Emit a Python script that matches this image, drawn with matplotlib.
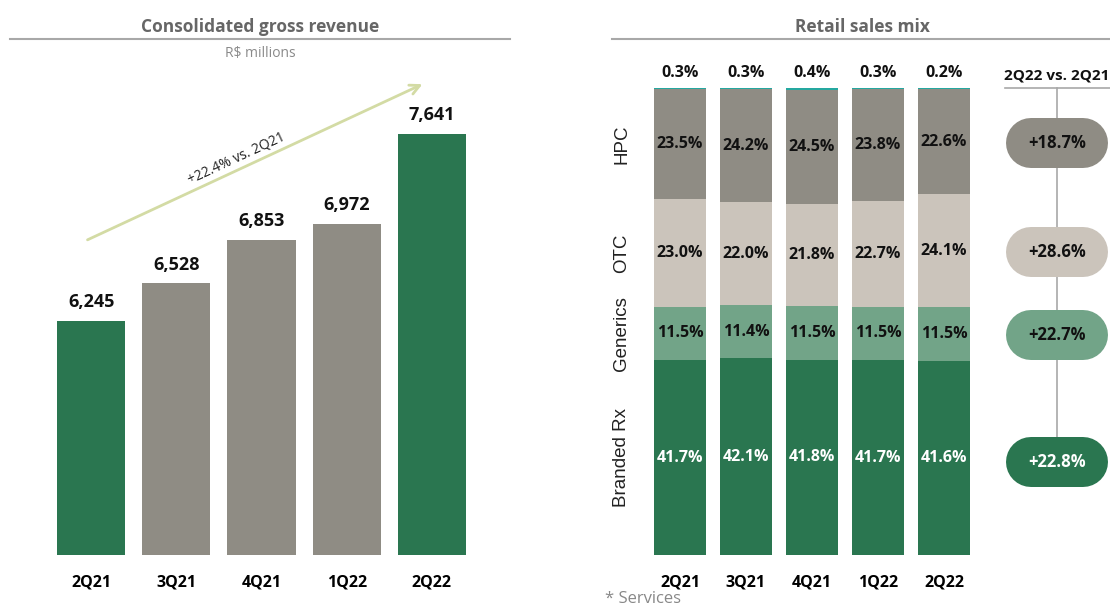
import numpy as np
import matplotlib.pyplot as plt

# ── DATA ──────────────────────────────────────────────────────────────────
quarters = ["2Q21", "3Q21", "4Q21", "1Q22", "2Q22"]
gross_revenue = [6245, 6528, 6853, 6972, 7641]       # R$ millions
revenue_growth = "+22.4% vs. 2Q21"

mix_segments = ["Branded Rx", "Generics", "OTC", "HPC"]
branded_rx = [41.7, 42.1, 41.8, 41.7, 41.6]
generics   = [11.5, 11.4, 11.5, 11.5, 11.5]
otc        = [23.0, 22.0, 21.8, 22.7, 24.1]
hpc        = [23.5, 24.2, 24.5, 23.8, 22.6]
services   = [0.3, 0.3, 0.4, 0.3, 0.2]
yoy_growth = ["+22.8%", "+22.7%", "+28.6%", "+18.7%"]   # same order as mix_segments

# ── STYLE ─────────────────────────────────────────────────────────────────
GREEN = "#2a7650"
GRAY = "#8f8c84"
BEIGE = "#cbc4bb"
MIDGREEN = "#72a488"
TEAL = "#25a8a0"
TITLE_GRAY = "#666666"
plt.rcParams['font.family'] = ['Open Sans', 'DejaVu Sans']

W, H = 1110, 606
fig = plt.figure(figsize=(W / 100, H / 100), dpi=100)

def px_axes(x0, y0, x1, y1):
    """axes placed by pixel box (top-left origin)"""
    return fig.add_axes([x0 / W, 1 - y1 / H, (x1 - x0) / W, (y1 - y0) / H])

# ── LEFT: consolidated gross revenue ──────────────────────────────────────
ax1 = px_axes(40, 86, 483, 555)
x = np.arange(len(quarters))
bar_colors = [GREEN, GRAY, GRAY, GRAY, GREEN]
ax1.bar(x, gross_revenue, width=0.8, color=bar_colors, bottom=0)
ax1.set_xlim(-0.6, 4.6)
ax1.set_ylim(4500, 8000)
for xi, v in zip(x, gross_revenue):
    ax1.annotate(f"{v:,}", (xi, v), xytext=(0, 7), textcoords="offset points",
                 ha="center", va="bottom", fontsize=13, fontweight="bold", color="#111111")
ax1.set_xticks(x, quarters, fontsize=11.5, fontweight="bold")
ax1.tick_params(length=0, pad=14)
for s in ax1.spines.values():
    s.set_visible(False)
ax1.set_yticks([])

# ── RIGHT: retail sales mix ───────────────────────────────────────────────
ax2 = px_axes(640.4, 88, 983.6, 555)
layers = [branded_rx, generics, otc, hpc, services]
layer_colors = [GREEN, MIDGREEN, BEIGE, GRAY, TEAL]
text_colors = ["white", "#111111", "#111111", "#111111"]
bottom = np.zeros(len(quarters))
for i, (vals, col) in enumerate(zip(layers, layer_colors)):
    vals = np.array(vals)
    ax2.bar(x, vals, bottom=bottom, width=0.79, color=col, linewidth=0)
    if i < 4:
        for xi, b, v in zip(x, bottom, vals):
            ax2.text(xi, b + v / 2, f"{v:.1f}%", ha="center", va="center",
                     fontsize=11.5, fontweight="bold", color=text_colors[i])
        ax2.text(-0.88, bottom[0] + vals[0] / 2, mix_segments[i], rotation=90,
                 ha="center", va="center", fontsize=13.5, family="Liberation Sans",
                 color="#222222")
    bottom += vals

for xi, v in zip(x, services):
    ax2.annotate(f"{v:.1f}%", (xi, 100), xytext=(0, 5), textcoords="offset points",
                 ha="center", va="bottom", fontsize=11.5, fontweight="bold", color="#111111")
ax2.annotate("*", (-0.88, 100), xytext=(0, 5), textcoords="offset points",
             ha="center", va="bottom", fontsize=12, color="#222222")
ax2.set_xlim(-0.6, 4.6)
ax2.set_ylim(0, 100)
ax2.set_xticks(x, quarters, fontsize=11.5, fontweight="bold")
ax2.tick_params(length=0, pad=14)
for s in ax2.spines.values():
    s.set_visible(False)
ax2.set_yticks([])

# ── OVERLAY: titles, growth arrow, yoy pills ──────────────────────────────
ov = fig.add_axes([0, 0, 1, 1], zorder=5)
ov.set_xlim(0, W)
ov.set_ylim(H, 0)
ov.axis("off")
ov.patch.set_alpha(0)

ov.text(260, 27, "Consolidated gross revenue", ha="center", va="center",
        fontsize=12.5, fontweight="bold", color=TITLE_GRAY)
ov.plot([10, 510], [39, 39], color="#a8a8a8", lw=1.5)
ov.text(260, 54, "R$ millions", ha="center", va="center", fontsize=10, color="#8a8a8a")

ov.text(862, 27, "Retail sales mix", ha="center", va="center",
        fontsize=12.5, fontweight="bold", color=TITLE_GRAY)
ov.plot([612, 1110], [39, 39], color="#a8a8a8", lw=1.5)

ov.annotate("", xy=(425, 83), xytext=(85, 241),
            arrowprops=dict(arrowstyle="->,head_length=0.7,head_width=0.35",
                            color="#d3dba4", lw=2))
ov.text(236, 158, revenue_growth, rotation=24.9, rotation_mode="anchor",
        ha="center", va="center", fontsize=10, color="#222222")

ov.text(1057, 75, "2Q22 vs. 2Q21", ha="center", va="center", fontsize=11,
        fontweight="bold", color="#111111")
ov.plot([1005, 1110], [88, 88], color="#a8a8a8", lw=1.2)
ov.plot([1057, 1057], [88, 485], color="#a8a8a8", lw=1.2, zorder=1)

# pills: a 50 px thick line with round caps gives true semicircular ends
pill_y = [462, 335, 252, 143]
pill_colors = [GREEN, MIDGREEN, BEIGE, GRAY]
for yc, g, col, tc in zip(pill_y, yoy_growth, pill_colors, text_colors):
    ov.plot([1031, 1083], [yc, yc], color=col, lw=36, solid_capstyle="round", zorder=2)
    ov.text(1057, yc, g, ha="center", va="center", fontsize=12,
            fontweight="bold", color=tc, zorder=3)

ov.text(605, 599, "* Services", ha="left", va="center", fontsize=12, color="#888888")

plt.savefig("out.png", dpi=100)
